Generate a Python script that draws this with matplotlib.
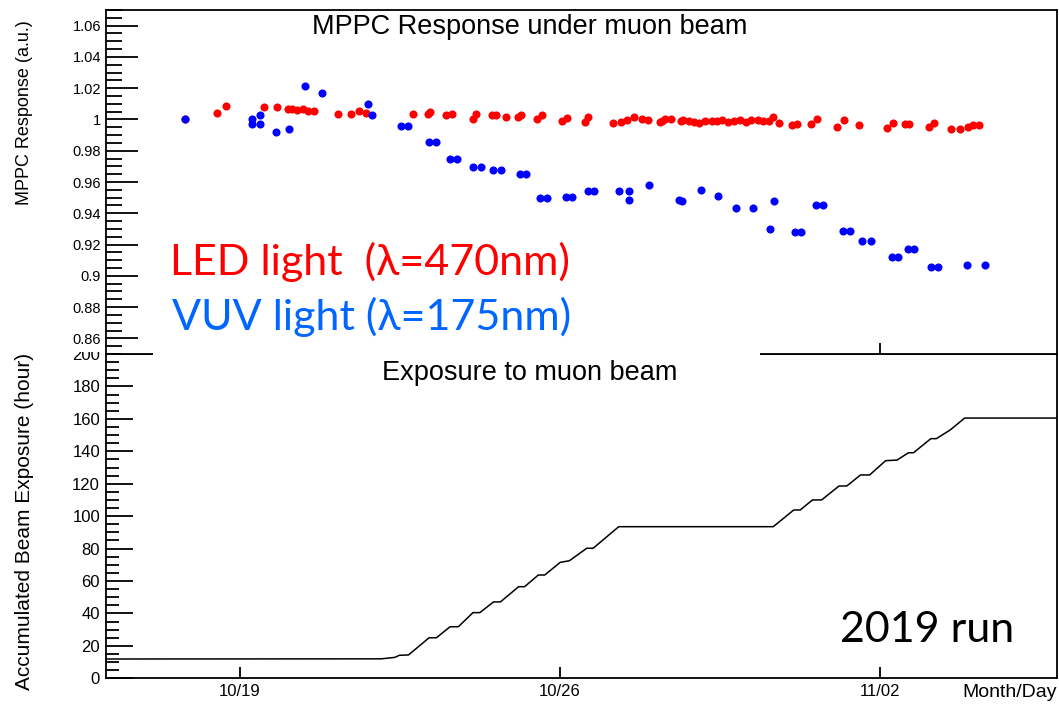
import matplotlib
matplotlib.use("Agg")
import matplotlib.pyplot as plt
from matplotlib.ticker import MultipleLocator, FuncFormatter, FixedLocator
from matplotlib.patches import Rectangle

# days counted from 10/19 00:00
led_day = [-1.21, -0.50, -0.30, 0.52, 0.82, 1.06, 1.15, 1.26, 1.38, 1.49, 1.62, 2.14, 2.43, 2.60, 2.76,
           3.79, 4.11, 4.17, 4.51, 4.64, 5.09, 5.16, 5.52, 5.60, 5.82, 6.08, 6.16, 6.51, 6.61, 7.05,
           7.16, 7.55, 7.61, 8.17, 8.34, 8.47, 8.63, 8.79, 8.93, 9.19, 9.24, 9.30, 9.43, 9.65, 9.70,
           9.83, 9.94, 10.05, 10.18, 10.32, 10.44, 10.54, 10.69, 10.82, 10.94, 11.07, 11.18, 11.33,
           11.44, 11.57, 11.67, 11.80, 12.09, 12.19, 12.50, 12.63, 13.07, 13.21, 13.54, 14.16, 14.30,
           14.55, 14.64, 15.08, 15.18, 15.56, 15.75, 15.93, 16.05, 16.18]
led_resp = [1.0000, 1.0042, 1.0085, 1.0079, 1.0079, 1.0064, 1.0068, 1.0061, 1.0066, 1.0055, 1.0055,
            1.0035, 1.0032, 1.0053, 1.0042, 1.0038, 1.0034, 1.0047, 1.0026, 1.0032, 1.0006, 1.0038,
            1.0026, 1.0029, 1.0017, 1.0017, 1.0028, 1.0002, 1.0026, 0.9989, 1.0008, 0.9983, 1.0017,
            0.9976, 0.9983, 0.9996, 1.0015, 1.0004, 0.9996, 0.9983, 0.9987, 1.0002, 1.0004, 0.9991,
            0.9996, 0.9991, 0.9983, 0.9976, 0.9991, 0.9989, 0.9991, 0.9997, 0.9985, 0.9991, 0.9997,
            0.9983, 0.9994, 0.9997, 0.9987, 0.9991, 1.0015, 0.9976, 0.9965, 0.9970, 0.9973, 1.0000,
            0.9951, 0.9996, 0.9965, 0.9946, 0.9978, 0.9972, 0.9972, 0.9951, 0.9976, 0.9938, 0.9941,
            0.9951, 0.9964, 0.9967]

vuv_day = [-1.21, 0.27, 0.27, 0.44, 0.44, 0.78, 1.07, 1.42, 1.79, 2.80, 2.89, 3.52, 3.68, 4.14, 4.30,
           4.60, 4.75, 5.11, 5.27, 5.54, 5.71, 6.13, 6.25, 6.56, 6.71, 7.13, 7.26, 7.61, 7.74, 8.30,
           8.51, 8.51, 8.96, 9.61, 9.68, 10.09, 10.47, 10.85, 11.22, 11.69, 11.60, 12.14, 12.27, 12.61,
           12.76, 13.19, 13.34, 13.62, 13.82, 14.27, 14.41, 14.62, 14.75, 15.13, 15.28, 15.90, 16.30]
vuv_resp = [1.0000, 1.0000, 0.9974, 1.0028, 0.9974, 0.9921, 0.9940, 1.0215, 1.0166, 1.0098, 1.0028,
            0.9955, 0.9955, 0.9859, 0.9859, 0.9748, 0.9748, 0.9697, 0.9697, 0.9677, 0.9677, 0.9650,
            0.9650, 0.9498, 0.9498, 0.9501, 0.9501, 0.9541, 0.9541, 0.9545, 0.9545, 0.9485, 0.9581,
            0.9488, 0.9477, 0.9547, 0.9508, 0.9432, 0.9434, 0.9478, 0.9302, 0.9278, 0.9278, 0.9451,
            0.9451, 0.9289, 0.9289, 0.9221, 0.9221, 0.9123, 0.9123, 0.9170, 0.9170, 0.9059, 0.9059,
            0.9069, 0.9069]

exp_day = [-3.0, 3.09, 3.39, 3.49, 3.69, 4.14, 4.30, 4.60, 4.78, 5.10, 5.25, 5.55, 5.70, 6.10, 6.23,
           6.53, 6.67, 7.01, 7.21, 7.59, 7.73, 8.29, 11.67, 12.12, 12.26, 12.53, 12.73, 13.11, 13.28,
           13.58, 13.78, 14.13, 14.38, 14.63, 14.74, 15.12, 15.24, 15.54, 15.86, 18.0]
exp_hours = [11.9, 12.0, 12.9, 14.2, 14.4, 25.0, 25.0, 31.8, 31.8, 40.5, 40.5, 47.1, 47.1, 56.5, 56.5,
             63.7, 63.7, 71.5, 72.5, 80.2, 80.2, 93.5, 93.5, 103.8, 103.8, 110.0, 110.0, 118.6, 118.6,
             125.4, 125.4, 134.2, 134.6, 139.1, 139.1, 147.8, 147.8, 153.1, 160.5, 160.5]

date_ticks = [0, 7, 14]
date_labels = ["10/19", "10/26", "11/02"]

W, H = 1059, 705
helv = "Liberation Sans"
cal = ["Lato", "DejaVu Sans"]

fig = plt.figure(figsize=(W / 100, H / 100), dpi=100)
L, R = 106 / W, 1057 / W
ax_bot = fig.add_axes([L, 1 - 678.3 / H, R - L, (678.3 - 354) / H])
ax_top = fig.add_axes([L, 1 - 354 / H, R - L, (354 - 10) / H])
ax_bot.set_zorder(1)
ax_top.set_zorder(2)

ax_top.scatter(led_day, led_resp, s=34, color="#ff0000", linewidths=0, zorder=3)
ax_top.scatter(vuv_day, vuv_resp, s=34, color="#0000ff", linewidths=0, zorder=4)
ax_bot.plot(exp_day, exp_hours, color="black", lw=1.1)

xlim = (-2.93, 17.88)
for ax in (ax_top, ax_bot):
    ax.set_xlim(*xlim)
    ax.xaxis.set_major_locator(FixedLocator(date_ticks))
    ax.set_xticklabels(date_labels)
    for sp in ax.spines.values():
        sp.set_linewidth(1.3)
    ax.tick_params(axis="x", direction="in", length=8, width=1.3, pad=4,
                   labelsize=12, labelfontfamily=helv)

ax_top.tick_params(axis="x", labelbottom=False)
ax_top.set_ylim(0.85, 1.07)
ax_top.yaxis.set_major_locator(MultipleLocator(0.02))
ax_top.yaxis.set_minor_locator(MultipleLocator(0.005))
ax_top.yaxis.set_major_formatter(FuncFormatter(lambda v, p: "%g" % round(v, 3)))
ax_top.tick_params(axis="y", which="major", direction="in", length=23, width=1.3, pad=3.6,
                   labelsize=10.5, labelfontfamily=helv)
ax_top.tick_params(axis="y", which="minor", direction="in", length=11.5, width=1.3)

ax_bot.set_ylim(0, 200)
ax_bot.yaxis.set_major_locator(MultipleLocator(20))
ax_bot.yaxis.set_minor_locator(MultipleLocator(5))
ax_bot.tick_params(axis="y", which="major", direction="in", length=19.5, width=1.3, pad=4.3,
                   labelsize=12, labelfontfamily=helv)
ax_bot.tick_params(axis="y", which="minor", direction="in", length=9.5, width=1.3)

# white pad area of the upper panel hiding the lower frame and the text box
ax_top.add_patch(Rectangle((0, 1 - 352 / H), L - 1.5 / W, 352 / H, transform=fig.transFigure,
                           facecolor="white", edgecolor="none", clip_on=False, zorder=0.5))
ax_top.add_patch(Rectangle((153 / W, 1 - 356 / H), (760 - 153) / W, 66 / H, transform=fig.transFigure,
                           facecolor="white", edgecolor="none", clip_on=False, zorder=5))

fig.text(530 / W, 1 - 27 / H, "MPPC Response under muon beam", ha="center", va="center",
         fontsize=19.5, family=helv)
fig.text(530 / W, 1 - 373 / H, "Exposure to muon beam", ha="center", va="center",
         fontsize=19.5, family=helv)
fig.text(25 / W, 1 - 20 / H, "MPPC Response (a.u.)", rotation=90, rotation_mode="anchor",
         ha="right", va="center", fontsize=13, family=helv)
fig.text(25 / W, 1 - 521 / H, "Accumulated Beam Exposure (hour)", rotation=90,
         ha="center", va="center", fontsize=15, family=helv)
fig.text(1057 / W, 1 - 684 / H, "Month/Day", ha="right", va="top", fontsize=14, family=helv)

fig.text(170 / W, 1 - 275 / H, "LED light  (λ=470nm)", color="#ff0000", fontsize=31,
         family=cal, va="baseline", zorder=6)
fig.text(172 / W, 1 - 330 / H, "VUV light (λ=175nm)", color="#0066ff", fontsize=31,
         family=cal, va="baseline", zorder=6)
fig.text(840 / W, 1 - 642 / H, "2019 run", color="black", fontsize=31, family=cal, va="baseline")

fig.savefig("out.png", dpi=100)
